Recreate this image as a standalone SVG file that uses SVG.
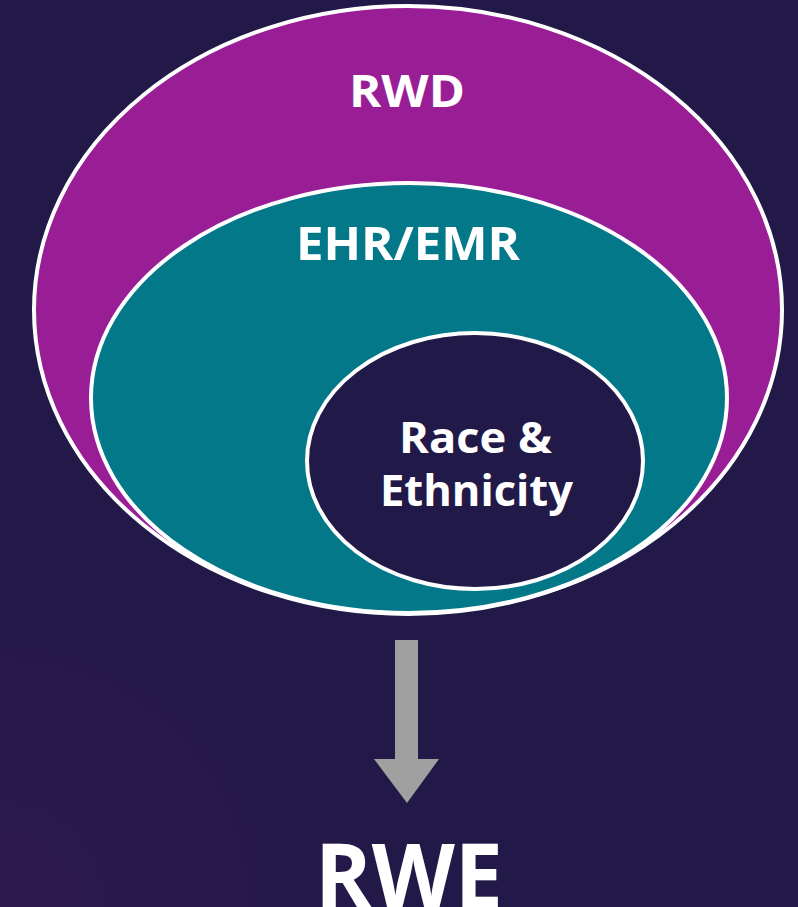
<svg xmlns="http://www.w3.org/2000/svg" width="798" height="907" viewBox="0 0 798 907">
<defs>
<radialGradient id="bg" cx="0" cy="907" r="420" gradientUnits="userSpaceOnUse">
<stop offset="0" stop-color="#2d1a4c"/>
<stop offset="1" stop-color="#221948"/>
</radialGradient>
<style>
.ring{stroke:#ffffff;stroke-width:4}
.lbl{font-family:"Open Sans","Lato","Liberation Sans",sans-serif;font-weight:700;fill:#ffffff;text-anchor:middle}
</style>
</defs>
<rect x="0" y="0" width="798" height="907" fill="#211947"/>
<rect x="0" y="0" width="798" height="907" fill="url(#bg)"/>
<g id="rwd">
<ellipse class="ring" cx="408" cy="310" rx="374" ry="304" fill="#991e95"/>
<text class="lbl" x="407" y="107" font-size="45" textLength="116" lengthAdjust="spacingAndGlyphs">RWD</text>
</g>
<g id="ehr">
<ellipse class="ring" cx="409" cy="398" rx="318" ry="215" fill="#037889"/>
<text class="lbl" x="408" y="260" font-size="47" textLength="224" lengthAdjust="spacingAndGlyphs">EHR/EMR</text>
</g>
<g id="race">
<ellipse class="ring" cx="475" cy="461" rx="168" ry="128" fill="#211947"/>
<text class="lbl" x="475.5" y="453" font-size="43" textLength="153" lengthAdjust="spacingAndGlyphs">Race &amp;</text>
<text class="lbl" x="476.5" y="506" font-size="43" textLength="193" lengthAdjust="spacingAndGlyphs">Ethnicity</text>
</g>
<g id="connectors">
<polygon points="395,640 418,640 418,759 439,759 407,803 374,759 395,759" fill="#a0a0a0"/>
</g>
<g id="rwe">
<text class="lbl" x="409" y="908" font-size="89" textLength="188" lengthAdjust="spacingAndGlyphs">RWE</text>
</g>
</svg>
